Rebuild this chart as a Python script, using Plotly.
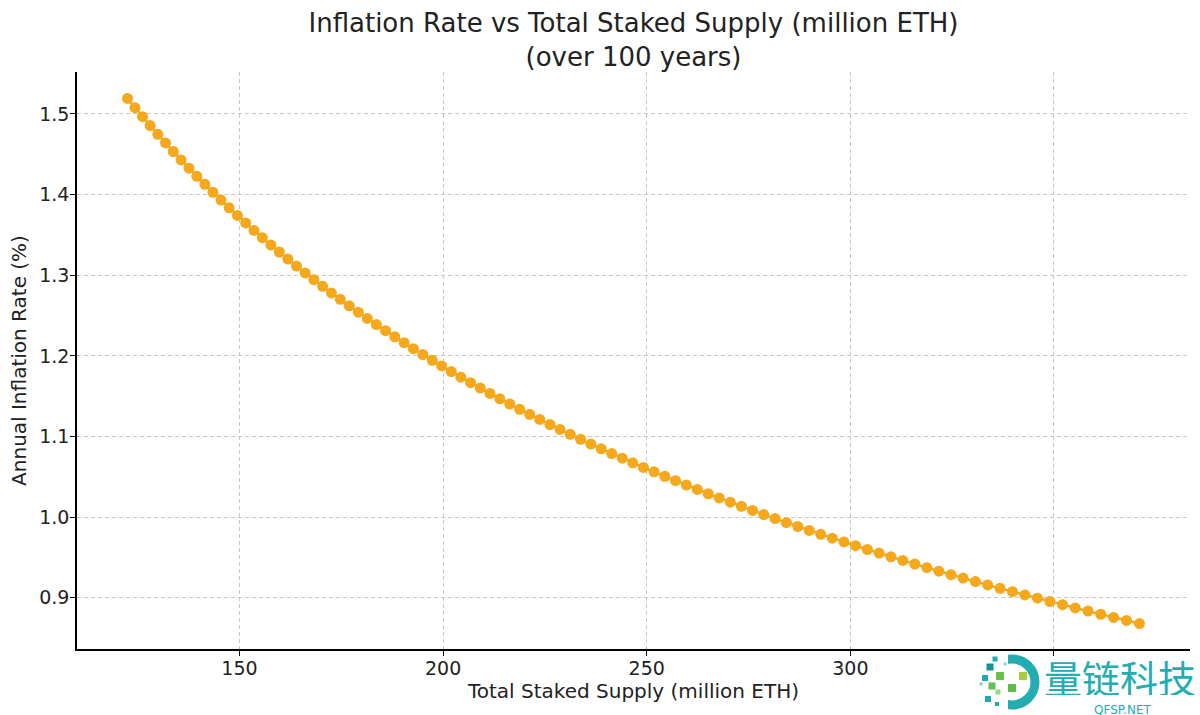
import plotly.graph_objects as go

# ---- data ----
staked_supply = [
    122.50, 124.34, 126.19, 128.06, 129.94, 131.83, 133.74, 135.66, 137.60, 139.54,
    141.51, 143.48, 145.47, 147.47, 149.49, 151.52, 153.57, 155.62, 157.70, 159.78,
    161.88, 164.00, 166.12, 168.26, 170.41, 172.58, 174.76, 176.96, 179.17, 181.39,
    183.62, 185.87, 188.14, 190.42, 192.70, 195.01, 197.33, 199.66, 202.01, 204.36,
    206.74, 209.13, 211.52, 213.94, 216.37, 218.81, 221.27, 223.73, 226.22, 228.71,
    231.22, 233.75, 236.28, 238.84, 241.40, 243.98, 246.57, 249.18, 251.80, 254.43,
    257.08, 259.74, 262.41, 265.10, 267.80, 270.52, 273.25, 275.99, 278.75, 281.52,
    284.30, 287.10, 289.91, 292.73, 295.57, 298.43, 301.29, 304.17, 307.07, 309.97,
    312.89, 315.83, 318.78, 321.74, 324.71, 327.70, 330.71, 333.72, 336.76, 339.80,
    342.86, 345.93, 349.01, 352.11, 355.22, 358.35, 361.49, 364.65, 367.82, 371.00,
]
inflation_rate = [
    1.5192, 1.5078, 1.4966, 1.4856, 1.4747, 1.4640, 1.4534, 1.4430, 1.4327, 1.4227,
    1.4127, 1.4029, 1.3932, 1.3836, 1.3741, 1.3648, 1.3556, 1.3465, 1.3376, 1.3288,
    1.3200, 1.3114, 1.3029, 1.2945, 1.2862, 1.2781, 1.2701, 1.2621, 1.2542, 1.2464,
    1.2388, 1.2312, 1.2237, 1.2163, 1.2089, 1.2017, 1.1945, 1.1875, 1.1805, 1.1736,
    1.1667, 1.1600, 1.1534, 1.1468, 1.1403, 1.1338, 1.1275, 1.1212, 1.1149, 1.1088,
    1.1027, 1.0966, 1.0906, 1.0847, 1.0789, 1.0731, 1.0674, 1.0617, 1.0562, 1.0507,
    1.0452, 1.0398, 1.0344, 1.0290, 1.0238, 1.0186, 1.0134, 1.0083, 1.0032, 0.9982,
    0.9933, 0.9884, 0.9835, 0.9787, 0.9739, 0.9693, 0.9646, 0.9599, 0.9554, 0.9508,
    0.9463, 0.9418, 0.9374, 0.9330, 0.9287, 0.9244, 0.9201, 0.9159, 0.9117, 0.9076,
    0.9035, 0.8995, 0.8954, 0.8914, 0.8874, 0.8835, 0.8796, 0.8757, 0.8719, 0.8681,
]
x_tick_vals = [150, 200, 250, 300, 350]
x_tick_text = ["150", "200", "250", "300", ""]
y_tick_vals = [0.9, 1.0, 1.1, 1.2, 1.3, 1.4, 1.5]
y_tick_text = ["0.9", "1.0", "1.1", "1.2", "1.3", "1.4", "1.5"]

title_text = "Inflation Rate vs Total Staked Supply (million ETH)<br>(over 100 years)"
x_title = "Total Staked Supply (million ETH)"
y_title = "Annual Inflation Rate (%)"
brand_text = "量链科技"
brand_sub = "QFSP.NET"

# ---- layout geometry (pixels) ----
W, H = 1200, 715
L, R, T, B = 77, 10, 72, 66
PX0, PX1 = L, W - R
PY0, PY1 = T, H - B


def px(xp):
    return (xp - PX0) / (PX1 - PX0)


def py(yp):
    return (PY1 - yp) / (PY1 - PY0)


FONT = "DejaVu Sans, Verdana, sans-serif"
ORANGE = "rgb(245,168,28)"
TEAL = "#22adb3"

fig = go.Figure()
fig.add_trace(go.Scatter(
    x=staked_supply, y=inflation_rate, mode="lines+markers",
    line=dict(color=ORANGE, width=2.5),
    marker=dict(color=ORANGE, size=11, line=dict(width=0)),
    showlegend=False, hoverinfo="x+y",
))

axis_common = dict(
    showline=True, linecolor="black", linewidth=1.5,
    ticks="outside", ticklen=5, tickwidth=1.3, tickcolor="black",
    showgrid=True, gridcolor="#c8c8c8", gridwidth=1, griddash="4px,3px",
    zeroline=False, tickfont=dict(family=FONT, size=19, color="#222"),
    mirror=False,
)

fig.update_layout(
    width=W, height=H,
    margin=dict(l=L, r=R, t=T, b=B, pad=0),
    paper_bgcolor="white", plot_bgcolor="white",
    title=dict(text=title_text, x=0.5, xref="paper", xanchor="center",
               y=1 - 32 / H, yref="container", yanchor="top",
               font=dict(family=FONT, size=26, color="#222")),
    xaxis=dict(range=[110.1, 383.4], tickvals=x_tick_vals, ticktext=x_tick_text,
               ticklabelstandoff=-4,
               title=dict(text=x_title, standoff=5,
                          font=dict(family=FONT, size=20, color="#222")),
               **axis_common),
    yaxis=dict(range=[0.8365, 1.552], tickvals=y_tick_vals, ticktext=y_tick_text,
               ticklabelstandoff=-3,
               title=dict(text=y_title, standoff=7,
                          font=dict(family=FONT, size=20, color="#222")),
               **axis_common),
)

# ---- watermark logo (bottom right) ----
shapes = []
shapes.append(dict(type="circle", xref="paper", yref="paper",
                   x0=px(989), x1=px(1035), y0=py(705), y1=py(659),
                   line=dict(color=TEAL, width=9), fillcolor="rgba(0,0,0,0)",
                   layer="above"))
shapes.append(dict(type="rect", xref="paper", yref="paper",
                   x0=px(978), x1=px(1008), y0=py(714), y1=py(651),
                   line=dict(width=0), fillcolor="white", layer="above"))
squares = [
    (995, 659, 5, "#1fa9b1"), (990, 667, 7, "#178f97"), (1000, 676, 8, "#6cc04a"),
    (1023, 676, 8, "#a9cc3a"), (985, 678, 6, "#1fa9b1"), (992, 686, 7, "#5fbf58"),
    (1012, 688, 8, "#5cbd4b"), (998, 692, 5, "#9ad58a"), (988, 699, 6, "#1fa9b1"),
    (997, 704, 4, "#1fa9b1"), (981, 684, 3, "#7fcfc8"), (1005, 664, 3, "#8fd0cc"),
]
for cx, cy, s, c in squares:
    shapes.append(dict(type="rect", xref="paper", yref="paper",
                       x0=px(cx - s / 2), x1=px(cx + s / 2),
                       y0=py(cy + s / 2), y1=py(cy - s / 2),
                       line=dict(width=0), fillcolor=c, layer="above"))
fig.update_layout(shapes=shapes)

fig.add_annotation(text=brand_text, xref="paper", yref="paper",
                   x=px(1120), y=py(676), xanchor="center", yanchor="middle",
                   showarrow=False, height=38, borderpad=0,
                   font=dict(family="Noto Sans CJK SC", size=38, color=TEAL))
fig.add_annotation(text=brand_sub, xref="paper", yref="paper",
                   x=px(1122), y=py(709), xanchor="center", yanchor="middle",
                   showarrow=False, height=11, borderpad=0,
                   font=dict(family="DejaVu Sans", size=12, color=TEAL))

fig.write_html(
    "out.html",
    config={"displayModeBar": False},
    post_script="document.body.style.margin='0';document.body.style.overflow='hidden';",
)
